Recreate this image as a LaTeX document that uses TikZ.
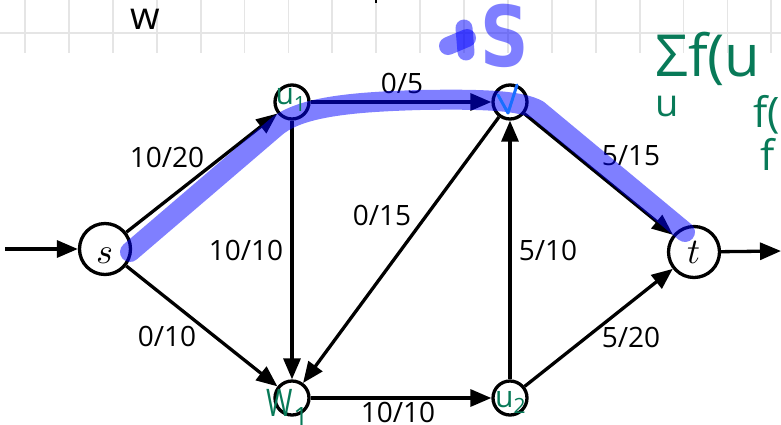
\documentclass[tikz,border=0pt]{standalone}
\usepackage{fontspec}
\usepackage{graphicx}
\setsansfont{Open Sans}
\newfontfamily\hand{Open Sans}
\newfontfamily\dvb{DejaVu Sans}
\newfontfamily\lmmath{Latin Modern Math}
\usetikzlibrary{arrows.meta}
\definecolor{hlblue}{RGB}{0,0,255}
\definecolor{checkblue}{RGB}{25,110,255}
\definecolor{pen}{RGB}{8,122,88}
\definecolor{gridc}{RGB}{229,229,229}
\begin{document}
\begin{tikzpicture}[x=1pt,y=-1pt,
  vtx/.style={circle,draw,line width=3.3pt,minimum size=34pt,inner sep=0pt},
  term/.style={vtx,minimum size=51pt,font=\lmmath\fontsize{36}{36}\selectfont},
  edge/.style={line width=3.3pt,-{Triangle[length=21pt,width=17pt]}},
  lbl/.style={font=\sffamily\fontsize{28}{28}\selectfont,anchor=base,inner sep=0pt},
  hl/.style={draw=hlblue,opacity=0.5,line width=20pt,line cap=round,line join=round},
  handg/.style={text=pen,font=\hand\fontsize{30}{30}\selectfont,inner sep=0pt},
  gridline/.style={draw=gridc,line width=1.8pt}]
\useasboundingbox (0,0) rectangle (781,424);
% grid
\draw[gridline] (0,33) -- (781,33);
\foreach \k in {0,...,17} \draw[gridline] ({25+43.9*\k},0) -- ({25+43.9*\k},53);
\draw[line width=1.5pt] (376,0) -- (376,3);
% vertices
\node[term, text height=29pt, text depth=0pt] (s) at (105,249) {𝑠};
\node[term] (t) at (694,252) {𝑡};
\node[vtx] (u1) at (292,102) {};
\node[vtx] (v) at (510,102) {};
\node[vtx] (w1) at (292,398) {};
\node[vtx] (u2) at (510,398) {};
\coordinate (in) at (5,249);
\coordinate (out) at (781,251);
% edges
\draw[edge] (in) -- (s);
\draw[edge] (t) -- (out);
\draw[edge] (s) -- (u1);
\draw[edge] (u1) -- (v);
\draw[edge] (v) -- (t);
\draw[edge] (u1) -- (w1);
\draw[edge] (v) -- (w1);
\draw[edge] (u2) -- (v);
\draw[edge] (s) -- (w1);
\draw[edge] (w1) -- (u2);
\draw[edge] (u2) -- (t);
% edge labels
\node[lbl] (l1) at (167,167) {10/20};
\node[lbl] (l2) at (402,93) {0/5};
\node[lbl] (l3) at (631,165) {5/15};
\node[lbl] (l4) at (382,225) {0/15};
\node[lbl] (l5) at (246,260) {10/10};
\node[lbl] (l6) at (548,260) {5/10};
\node[lbl] (l7) at (167,346) {0/10};
\node[lbl] (l8) at (631,347) {5/20};
\node[lbl] (l9) at (398,422) {10/10};
% highlight
\draw[hl] (130,252) -- (276,127) .. controls (300,107) and (350,102) .. (420,100) .. controls (480,99) and (520,100) .. (538,110) -- (685,232);
\draw[hl, line width=17pt] (464,28) -- (466,52);
\draw[hl, line width=18pt] (448,46) -- (467,38);
\node[text=hlblue, opacity=0.5, font=\dvb\bfseries\fontsize{84}{84}\selectfont, inner sep=0pt] (S) at (505,36) {\scalebox{0.8}[1]{S}};
\draw[checkblue, line width=3pt, line cap=round, line join=round] (498,95) -- (508,113) -- (517,85);
% handwriting
\node[font=\hand\fontsize{38}{38}\selectfont, inner sep=0pt] (w) at (145,19) {w};
\node[handg, font=\hand\fontsize{58}{58}\selectfont, anchor=base west] (sig) at (655,76) {Σf(u};
\node[handg, font=\hand\fontsize{38}{38}\selectfont, anchor=base west] (usub) at (655,116) {u};
\node[handg, font=\hand\fontsize{42}{42}\selectfont, anchor=base west] (f1) at (753,127) {f(};
\node[handg, font=\hand\fontsize{42}{42}\selectfont, anchor=base west] (f2) at (760,170) {f};
\node[handg] (u1t) at (291,100) {u\textsubscript{1}};
\node[handg, font=\hand\fontsize{38}{38}\selectfont, anchor=base] (w1t) at (288,416) {\scalebox{0.75}[1]{W}\textsubscript{1}};
\node[handg, anchor=base west] (u2t) at (495,407) {u\textsubscript{2}};
\end{tikzpicture}
\end{document}
